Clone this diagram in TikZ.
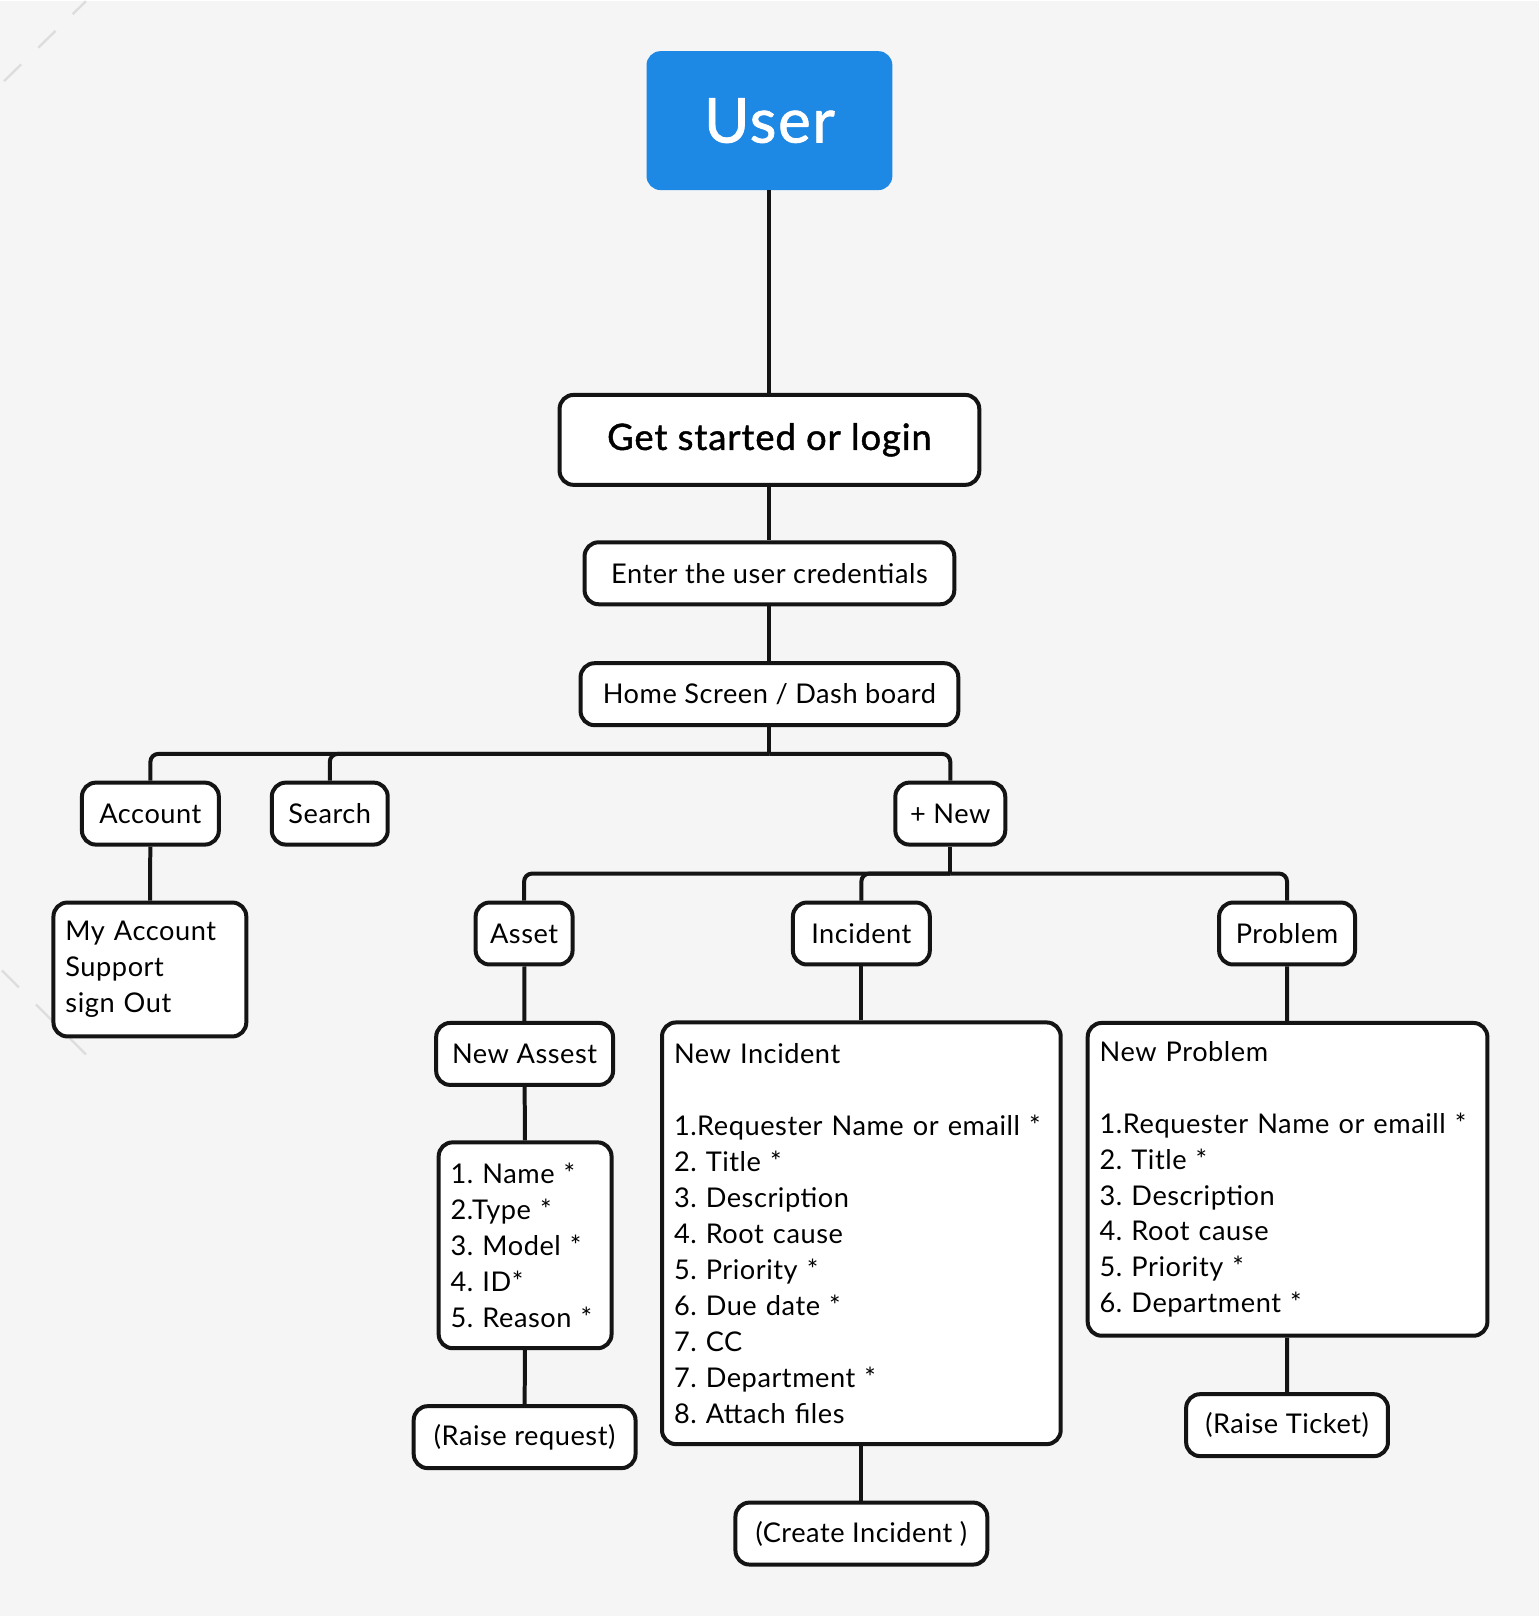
\documentclass[tikz,border=0pt]{standalone}
\usepackage{fontspec}
\setmainfont[LetterSpace=2]{Lato}
\newfontfamily\medfont[FakeBold=1.2,LetterSpace=2.5]{Lato}
\usetikzlibrary{calc,positioning}
\definecolor{paper}{HTML}{F5F5F5}
\definecolor{userblue}{HTML}{1E88E5}
\definecolor{ink}{HTML}{141414}
\definecolor{faint}{HTML}{DDDDDD}
\frenchspacing

\begin{document}
\begin{tikzpicture}[x=0.5pt,y=-0.5pt,font=\fontsize{13.6}{18}\selectfont]

\tikzset{box/.style={draw=ink,fill=white,line width=2pt,rounded corners=7pt,inner xsep=6pt,inner ysep=0pt,minimum height=31pt,align=center},
listbox/.style={box,align=left,text width=#1},
conn/.style={draw=ink,line width=2pt},
bus/.style={conn,rounded corners=4pt}}

% Paper
\fill[paper] (0,0) rectangle (1540,1616);
\draw[faint,line width=1.2pt,dash pattern=on 12pt off 12pt] (4,80) -- (86,0);
\draw[faint,line width=1.2pt,dash pattern=on 12pt off 12pt] (2,970) -- (86,1054);

% Top of the flow
\node[draw=none,fill=userblue,rounded corners=7pt,minimum width=123pt,minimum height=69.5pt,text=white,font=\medfont\fontsize{31}{36}\selectfont] (user) at (770,119.5) {User};
\node[box,minimum width=210pt,minimum height=45pt,font=\medfont\fontsize{18.2}{22}\selectfont] (login) at (770,439) {Get started or login};
\node[box,minimum width=185pt] (cred) at (770,572.5) {Enter the user credentials};
\node[box,minimum width=189pt] (home) at (770,693.5) {Home Screen / Dash board};

% Menu row
\node[box,minimum width=68.5pt] (acct) at (150.5,813) {Account};
\node[box,minimum width=58pt] (search) at (330,813) {Search};
\node[box,minimum width=55pt] (newb) at (951,813) {+ New};
\node[listbox=84.5pt,minimum height=67pt] (myacc) at (150,969) {My Account\\Support\\sign Out};

% New items
\node[box,minimum width=48.5pt] (asset) at (524.5,933) {Asset};
\node[box,minimum width=68.5pt] (inc) at (862,933) {Incident};
\node[box,minimum width=68pt] (prob) at (1288,933) {Problem};

% Asset column
\node[box,minimum width=88.5pt] (newasset) at (525,1053.5) {New Assest};
\node[listbox=74.5pt,minimum height=103pt] (assetlist) at (525.5,1245) {1. Name *\\2.Type *\\3. Model *\\4. ID*\\5. Reason *};
\node[box,minimum width=111pt] (raisereq) at (525,1437) {(Raise request)};

% Incident column
\node[listbox=187.5pt,minimum height=211pt] (incform) at (862,1233) {New Incident\\[18pt]1.Requester Name or emaill *\\2. Title *\\3. Description\\4. Root cause\\5. Priority *\\6. Due date *\\7. CC\\7. Department *\\8. Attach files};
\node[box,minimum width=126pt] (createinc) at (862,1533.5) {(Create Incident )};

% Problem column
\node[listbox=188pt,minimum height=156.5pt] (probform) at (1288.5,1179) {New Problem\\[18pt]1.Requester Name or emaill *\\2. Title *\\3. Description\\4. Root cause\\5. Priority *\\6. Department *};
\node[box,minimum width=101pt] (raisetk) at (1288,1425) {(Raise Ticket)};

% Straight links
\draw[conn] (user) -- (login);
\draw[conn] (login) -- (cred);
\draw[conn] (cred) -- (home);
\draw[conn] (acct) -- (myacc);
\draw[conn] (asset) -- (newasset);
\draw[conn] (newasset) -- (assetlist);
\draw[conn] (assetlist) -- (raisereq);
\draw[conn] (inc) -- (incform);
\draw[conn] (incform) -- (createinc);
\draw[conn] (prob) -- (probform);
\draw[conn] (probform) -- (raisetk);

% Branches
\coordinate (bus1) at ($(home.south)!.5!(acct.north)$);
\coordinate (bus2) at ($(newb.south)!.5!(asset.north)$);
\draw[conn] (home.south) -- (home.south |- bus1);
\foreach \n in {acct,search,newb} \draw[bus] (home.south |- bus1) -| (\n.north);
\draw[conn] (newb.south) -- (newb.south |- bus2);
\foreach \n in {asset,inc,prob} \draw[bus] (newb.south |- bus2) -| (\n.north);

\end{tikzpicture}
\end{document}
